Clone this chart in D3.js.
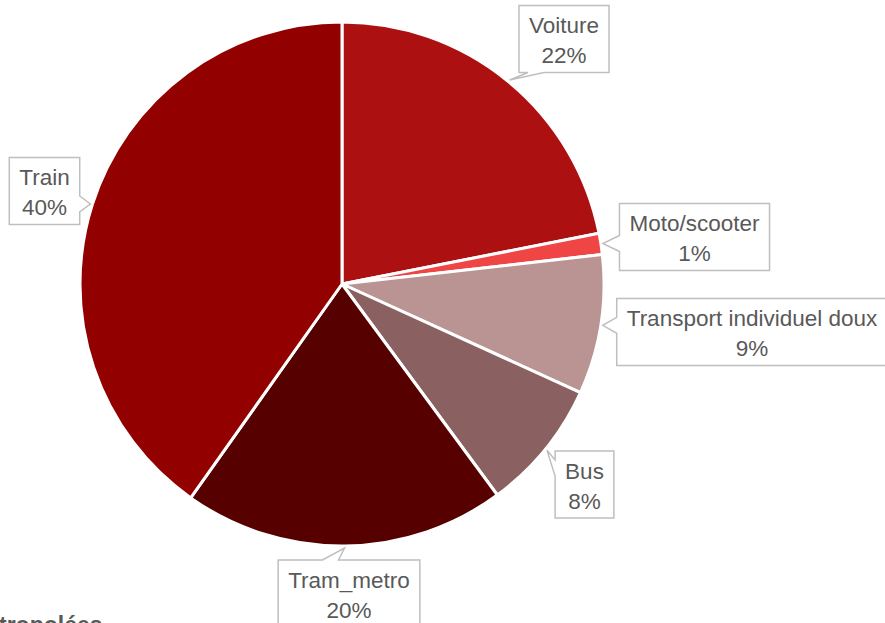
<!DOCTYPE html>
<html>
<head>
<meta charset="utf-8">
<script src="https://cdn.jsdelivr.net/npm/d3@7"></script>
<style>
  body { margin: 0; background: #fff; }
  svg { display: block; }
</style>
</head>
<body>
<div id="chart"></div>
<script>
// data
var categories = ["Voiture", "Moto/scooter", "Transport individuel doux", "Bus", "Tram_metro", "Train"];
var values     = [21.9, 1.3, 8.6, 8.1, 19.9, 40.2];
var colors     = ["#ad1010", "#ef4545", "#ba9393", "#8a6060", "#560000", "#920000"];

// layout
var chart_width  = 885;
var chart_height = 623;
var cx = 342, cy = 284, radius = 262;
var label_centers = {
    "Voiture": [564, 39],
    "Moto/scooter": [694.5, 237],
    "Transport individuel doux": [752, 332],
    "Bus": [584.5, 484.5],
    "Tram_metro": [349, 593.5],
    "Train": [44.5, 191]
};
var font = "'Liberation Sans', Arial, sans-serif";
var font_size = 22.5;

var svg = d3.select("#chart")
    .append("svg")
    .attr("width", chart_width)
    .attr("height", chart_height);

var rows = categories.map(function(c, i){
    return {name: c, value: values[i], color: colors[i]};
});
var total = d3.sum(values);

var pie = d3.pie()
    .sort(null)
    .value(function(d){ return d.value; });

var arc = d3.arc()
    .innerRadius(0)
    .outerRadius(radius);

var arcs = pie(rows);

var g = svg.append("g")
    .attr("transform", "translate(" + cx + "," + cy + ")");

g.selectAll("path")
    .data(arcs)
    .enter()
    .append("path")
    .attr("d", arc)
    .attr("fill", function(d){ return d.data.color; })
    .attr("stroke", "white")
    .attr("stroke-width", 3)
    .attr("stroke-linejoin", "round");

// callout labels
var labels = svg.append("g");

arcs.forEach(function(d){
    var mid = (d.startAngle + d.endAngle) / 2;
    var tx = cx + Math.sin(mid) * (radius + 2);
    var ty = cy - Math.cos(mid) * (radius + 2);
    var c = label_centers[d.data.name];

    var lg = labels.append("g");
    var t1 = lg.append("text")
        .attr("x", c[0]).attr("y", c[1] - 6)
        .attr("text-anchor", "middle")
        .style("font-family", font).style("font-size", font_size + "px")
        .attr("fill", "#595959")
        .text(d.data.name);
    lg.append("text")
        .attr("x", c[0]).attr("y", c[1] + 24)
        .attr("text-anchor", "middle")
        .style("font-family", font).style("font-size", font_size + "px")
        .attr("fill", "#595959")
        .text(Math.round(d.data.value / total * 100) + "%");

    var w = t1.node().getComputedTextLength() + 20;
    var h = 67;
    var x0 = c[0] - w / 2, x1 = c[0] + w / 2;
    var y0 = c[1] - h / 2, y1 = c[1] + h / 2;

    var nx = (tx - c[0]) / (w / 2), ny = (ty - c[1]) / (h / 2);
    var side = Math.abs(nx) > Math.abs(ny) ? (nx < 0 ? "left" : "right") : (ny < 0 ? "top" : "bottom");
    var hb = 8, pad = 17;
    var p;
    if (side === "left" || side === "right") {
        var by = Math.max(y0 + pad, Math.min(y1 - pad, ty));
        if (side === "left") {
            p = "M" + x0 + "," + y0 + "H" + x1 + "V" + y1 + "H" + x0 +
                "V" + (by + hb) + "L" + tx + "," + ty + "L" + x0 + "," + (by - hb) + "Z";
        } else {
            p = "M" + x0 + "," + y0 + "H" + x1 + "V" + (by - hb) + "L" + tx + "," + ty +
                "L" + x1 + "," + (by + hb) + "V" + y1 + "H" + x0 + "Z";
        }
    } else {
        var bx = Math.max(x0 + pad, Math.min(x1 - pad, tx - 14));
        if (side === "top") {
            p = "M" + x0 + "," + y0 + "H" + (bx - hb) + "L" + tx + "," + ty + "L" + (bx + hb) + "," + y0 +
                "H" + x1 + "V" + y1 + "H" + x0 + "Z";
        } else {
            p = "M" + x0 + "," + y0 + "H" + x1 + "V" + y1 + "H" + (bx + hb) + "L" + tx + "," + ty +
                "L" + (bx - hb) + "," + y1 + "H" + x0 + "Z";
        }
    }
    lg.insert("path", "text")
        .attr("d", p)
        .attr("fill", "white")
        .attr("stroke", "#bfbfbf")
        .attr("stroke-width", 1.5);
});

// next chart title, cut by the bottom edge
svg.append("text")
    .attr("x", -1)
    .attr("y", 633)
    .style("font-family", font)
    .style("font-size", "23px")
    .style("font-weight", "bold")
    .attr("fill", "#595959")
    .text("tropolées");
</script>
</body>
</html>
